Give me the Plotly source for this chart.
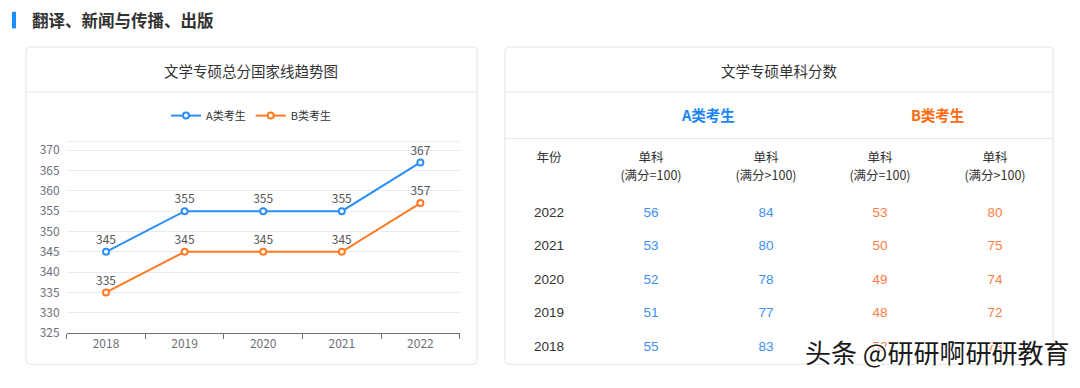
import plotly.graph_objects as go

# ---------------- data ----------------
years = ["2018", "2019", "2020", "2021", "2022"]
total_a = [345, 355, 355, 355, 367]
total_b = [335, 345, 345, 345, 357]

table_years = ["2022", "2021", "2020", "2019", "2018"]
a_single_100 = [56, 53, 52, 51, 55]
a_single_over = [84, 80, 78, 77, 83]
b_single_100 = [53, 50, 49, 48, 52]
b_single_over = [80, 75, 74, 72, 78]

page_title = "翻译、新闻与传播、出版"
left_title = "文学专硕总分国家线趋势图"
right_title = "文学专硕单科分数"
series_names = ["A类考生", "B类考生"]
header_line1 = ["年份", "单科", "单科", "单科", "单科"]
header_line2 = ["", "(满分=100)", "(满分>100)", "(满分=100)", "(满分>100)"]
watermark = "头条 @研研啊研研教育"

# ---------------- layout constants ----------------
W, H = 1080, 388
FONT = "Noto Sans CJK SC, Microsoft YaHei, sans-serif"
NUMFONT = "Liberation Sans, Arial, Noto Sans CJK SC, sans-serif"
BLUE = "#2b8ff5"
ORANGE = "#ff7a22"
TBL_BLUE = "#3d8ff0"
TBL_ORANGE = "#ff7d45"


def px(x):
    return x / W


def py(y):
    return 1 - y / H


def rounded_rect(x0, y0, x1, y1, r=4):
    return (f"M {x0+r},{y0} L {x1-r},{y0} Q {x1},{y0} {x1},{y0+r} "
            f"L {x1},{y1-r} Q {x1},{y1} {x1-r},{y1} L {x0+r},{y1} "
            f"Q {x0},{y1} {x0},{y1-r} L {x0},{y0+r} Q {x0},{y0} {x0+r},{y0} Z")


fig = go.Figure()

# ---------------- line chart ----------------
for name, vals, col in [(series_names[0], total_a, BLUE), (series_names[1], total_b, ORANGE)]:
    fig.add_trace(go.Scatter(
        x=years, y=vals, name=name, mode="lines+markers+text",
        text=[str(v) for v in vals], textposition="top center",
        textfont=dict(size=12, color="#555555", family=FONT),
        line=dict(color=col, width=2),
        marker=dict(symbol="circle", size=6, color="white", line=dict(color=col, width=2)),
        cliponaxis=False,
        xaxis="x", yaxis="y",
    ))

# ---------------- table (overlay axes in page units) ----------------
COL_X = [549, 651, 766, 880, 995]
HEAD_Y1, HEAD_Y2 = 161, 180
ROW_Y0, ROW_DY = 216.7, 34.3

fig.add_trace(go.Scatter(
    x=COL_X, y=[HEAD_Y1] * 5, mode="text", text=header_line1,
    textfont=dict(size=12.5, color="#333333", family=FONT),
    textposition="middle center", showlegend=False, hoverinfo="skip",
    xaxis="x2", yaxis="y2",
))
fig.add_trace(go.Scatter(
    x=COL_X[1:], y=[HEAD_Y2] * 4, mode="text", text=header_line2[1:],
    textfont=dict(size=12.5, color="#333333", family=FONT),
    textposition="middle center", showlegend=False, hoverinfo="skip",
    xaxis="x2", yaxis="y2",
))

row_ys = [ROW_Y0 + i * ROW_DY for i in range(len(table_years))]
columns = [(table_years, "#333333"), (a_single_100, TBL_BLUE), (a_single_over, TBL_BLUE),
           (b_single_100, TBL_ORANGE), (b_single_over, TBL_ORANGE)]
for ci, (vals, col) in enumerate(columns):
    fig.add_trace(go.Scatter(
        x=[COL_X[ci]] * len(vals), y=row_ys, mode="text",
        text=[str(v) for v in vals],
        textfont=dict(size=13.5, color=col, family=NUMFONT),
        textposition="middle center", showlegend=False, hoverinfo="skip",
        xaxis="x2", yaxis="y2",
    ))

# ---------------- decorations ----------------
shapes = []
shapes.append(dict(type="rect", xref="paper", yref="paper",
                   x0=px(12), x1=px(16), y0=py(28), y1=py(11),
                   fillcolor="#1890ff", line=dict(width=0), layer="above"))
for (x0, x1) in [(26, 477), (505, 1053)]:
    shapes.append(dict(type="path", xref="x2", yref="y2",
                       path=rounded_rect(x0, 47, x1, 371, 4),
                       fillcolor="rgba(0,0,0,0)", line=dict(color="#e3e3e3", width=1),
                       layer="below"))
    shapes.append(dict(type="line", xref="x2", yref="y2", x0=x0, x1=x1, y0=93, y1=93,
                       line=dict(color="#e6e6e6", width=1), layer="below"))
shapes.append(dict(type="line", xref="x2", yref="y2", x0=505, x1=1053, y0=140.5, y1=140.5,
                   line=dict(color="#e6e6e6", width=1), layer="below"))
shapes.append(dict(type="line", xref="x domain", yref="y domain", x0=0, x1=1, y0=1, y1=1,
                   line=dict(color="#e6ebf4", width=1), layer="below"))

annotations = [
    dict(text=f"<b>{page_title}</b>", xref="paper", yref="paper", x=px(30), y=py(19.5),
         xanchor="left", yanchor="middle", showarrow=False,
         font=dict(size=16.5, color="#333333", family=FONT)),
    dict(text=left_title, xref="paper", yref="paper", x=px(251), y=py(70.5),
         xanchor="center", yanchor="middle", showarrow=False,
         font=dict(size=14.5, color="#333333", family=FONT)),
    dict(text=right_title, xref="paper", yref="paper", x=px(779), y=py(70.5),
         xanchor="center", yanchor="middle", showarrow=False,
         font=dict(size=14.5, color="#333333", family=FONT)),
    dict(text=f"<b>{series_names[0]}</b>", xref="paper", yref="paper", x=px(708), y=py(115.5),
         xanchor="center", yanchor="middle", showarrow=False,
         font=dict(size=14.5, color="#1a86f5", family=FONT)),
    dict(text=f"<b>{series_names[1]}</b>", xref="paper", yref="paper", x=px(937), y=py(115.5),
         xanchor="center", yanchor="middle", showarrow=False,
         font=dict(size=14.5, color="#ff6a10", family=FONT)),
    dict(text=watermark, xref="paper", yref="paper", x=px(1071), y=py(358),
         xanchor="right", yanchor="middle", showarrow=False,
         font=dict(size=26, color="#1a1a1a", family=FONT,
                   shadow="1px 1px 0 #fff, -1px -1px 0 #fff, 1px -1px 0 #fff, -1px 1px 0 #fff")),
]

fig.update_layout(
    width=W, height=H,
    margin=dict(l=0, r=0, t=0, b=0),
    paper_bgcolor="white", plot_bgcolor="rgba(0,0,0,0)",
    font=dict(family=FONT, size=12, color="#333333"),
    showlegend=True,
    legend=dict(orientation="h", x=px(251), y=py(117), xanchor="center", yanchor="middle",
                font=dict(size=11, color="#333333", family=FONT),
                bgcolor="rgba(0,0,0,0)", itemwidth=30, tracegroupgap=0),
    xaxis=dict(domain=[px(66.7), px(459.7)], type="category", range=[-0.5, 4.5],
               tickson="boundaries", ticks="outside", ticklen=5, tickcolor="#6e7079",
               showline=True, linecolor="#6e7079", linewidth=1, showgrid=False,
               tickfont=dict(size=12, color="#6e7079", family=FONT), fixedrange=True),
    yaxis=dict(domain=[py(339), py(143.3)], range=[325, 372.2], dtick=5, tick0=325,
               showgrid=True, gridcolor="#e6ebf4", zeroline=False, showline=False,
               ticks="", ticklabelstandoff=6,
               tickfont=dict(size=12, color="#6e7079", family=FONT), fixedrange=True),
    xaxis2=dict(domain=[0, 1], range=[0, W], visible=False, fixedrange=True),
    yaxis2=dict(domain=[0, 1], range=[H, 0], visible=False, fixedrange=True),
    shapes=shapes,
    annotations=annotations,
)

fig.write_html("out.html")
